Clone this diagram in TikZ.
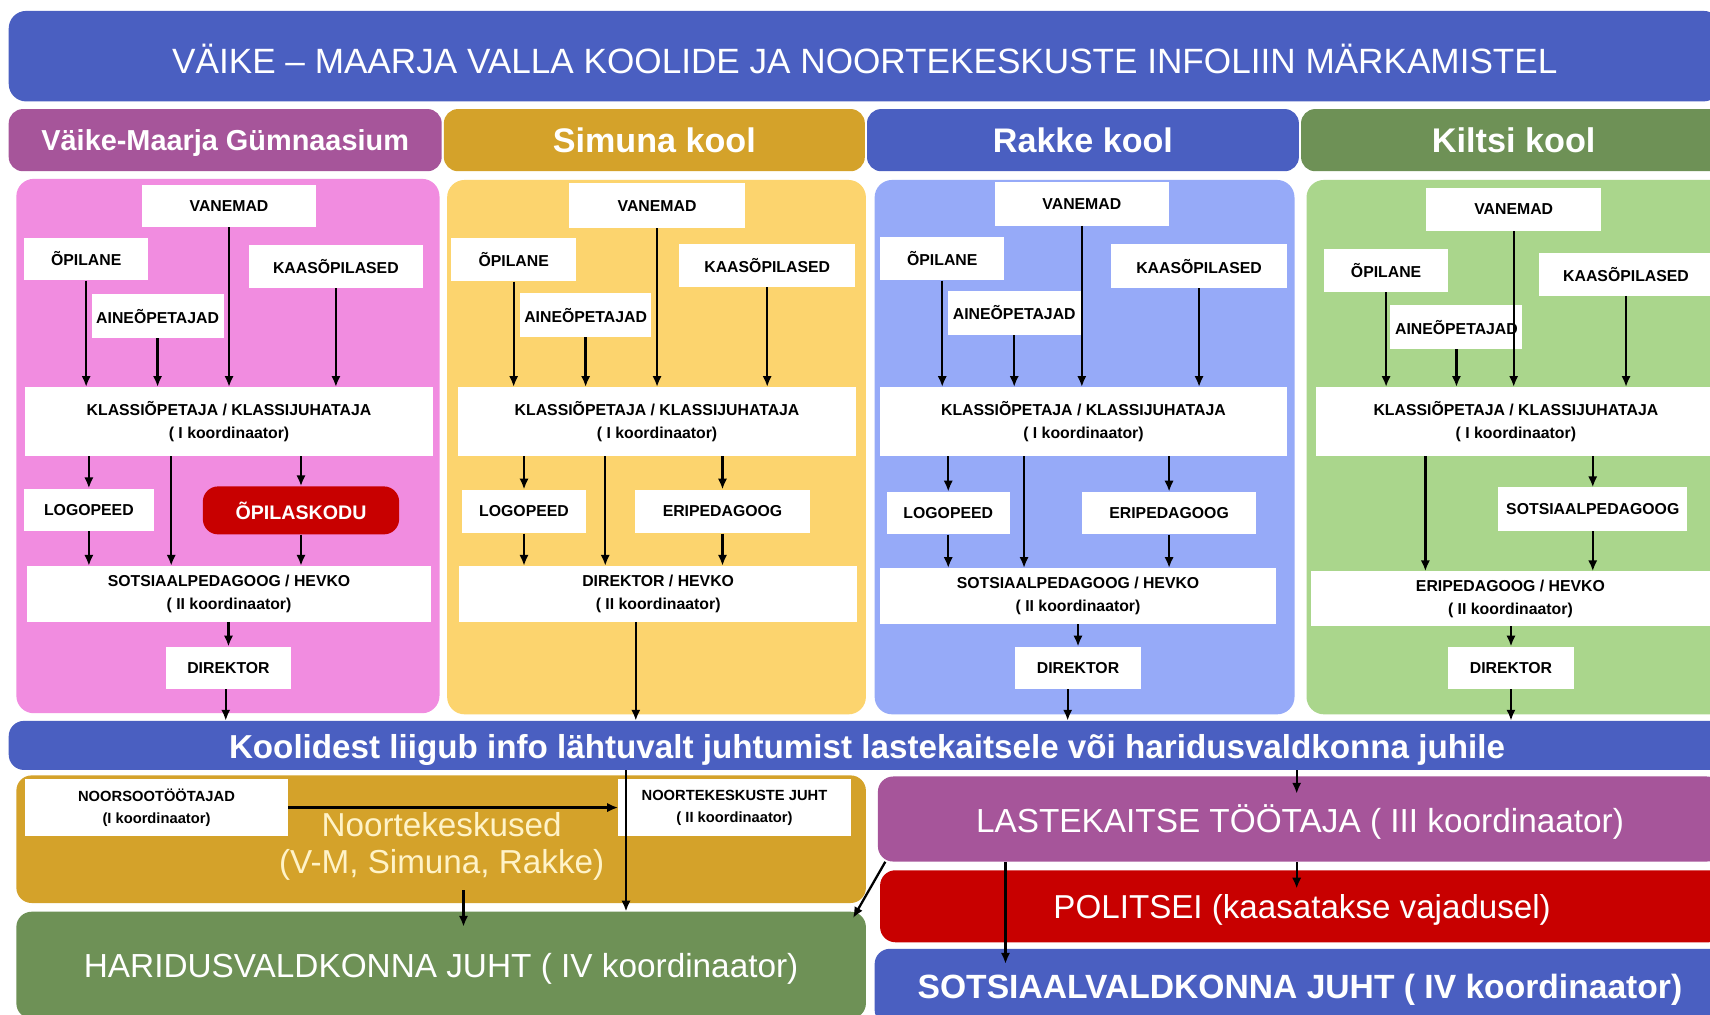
\documentclass[tikz,border=0pt]{standalone}
\usepackage{fontspec}
\usepackage{graphicx}
\setmainfont{Liberation Sans}
\usetikzlibrary{arrows.meta}
\definecolor{hblue}{RGB}{74,95,193}
\definecolor{hpurple}{RGB}{166,85,154}
\definecolor{hgold}{RGB}{212,162,42}
\definecolor{hgreen}{RGB}{110,145,86}
\definecolor{ppink}{RGB}{241,140,224}
\definecolor{pyellow}{RGB}{252,212,110}
\definecolor{pblue}{RGB}{150,170,248}
\definecolor{pgreen}{RGB}{170,214,140}
\definecolor{hred}{RGB}{200,0,0}
\definecolor{cream}{RGB}{255,243,200}
\newcommand\fitw[2]{\resizebox{#1}{!}{#2}}
\newcommand\lowr[1]{\raisebox{-3pt}[\height][\depth]{#1}}
\begin{document}
\begin{tikzpicture}[x=1pt,y=-1pt,
  wb/.style={fill=white, inner sep=0pt, align=center, font=\fontsize{14.5}{21}\selectfont\bfseries},
  big/.style={inner sep=0pt, align=center, text=white},
  hdr/.style={big, rounded corners=13pt, minimum height=57pt},
  panel/.style={inner sep=0pt, rounded corners=16pt, minimum height=490pt},
  arr/.style={-{Latex[length=10pt,width=8.5pt]}, line width=2.1pt}]
\useasboundingbox (0,0) rectangle (1568,930);
\clip (0,0) rectangle (1568,930);
\fill[white] (0,0) rectangle (1568,930);

% title
\node[big, fill=hblue, rounded corners=16pt, minimum width=1570pt, minimum height=83pt] (title) at (793,51.5)
  {\lowr{\fitw{1270pt}{VÄIKE – MAARJA VALLA KOOLIDE JA NOORTEKESKUSTE INFOLIIN MÄRKAMISTEL}}};

% headers
\node[hdr, fill=hpurple, minimum width=397pt] (hd1) at (206.5,128.5) {\lowr{\fitw{337pt}{\bfseries Väike-Maarja Gümnaasium}}};
\node[hdr, fill=hgold, minimum width=386pt] (hd2) at (600,128.5) {\fitw{186pt}{\bfseries Simuna kool}};
\node[hdr, fill=hblue, minimum width=396pt] (hd3) at (993,128.5) {\fitw{165pt}{\bfseries Rakke kool}};
\node[hdr, fill=hgreen, minimum width=390pt] (hd4) at (1388,128.5) {\fitw{150pt}{\bfseries Kiltsi kool}};

% panels
\node[panel, fill=ppink, minimum width=388pt] (p1) at (209,409) {};
\node[panel, fill=pyellow, minimum width=384pt] (p2) at (602,410) {};
\node[panel, fill=pblue, minimum width=385pt] (p3) at (994.5,410) {};
\node[panel, fill=pgreen, minimum width=392pt] (p4) at (1394,410) {};

% panel 1
\node[wb, minimum width=160pt, minimum height=38pt] (van1) at (210,189) {VANEMAD};
\node[wb, minimum width=114pt, minimum height=39pt] (opi1) at (79,237.5) {ÕPILANE};
\node[wb, minimum width=160pt, minimum height=39pt] (kaas1) at (308,244.5) {KAASÕPILASED};
\node[wb, minimum width=121pt, minimum height=40pt] (aine1) at (144.5,290) {AINEÕPETAJAD};
\node[wb, minimum width=374pt, minimum height=63pt] (klass1) at (210,386.5) {KLASSIÕPETAJA / KLASSIJUHATAJA\\( I koordinaator)};
\node[wb, minimum width=119pt, minimum height=39pt] (logo1) at (81.5,467.5) {LOGOPEED};
\node[wb, fill=hred, text=white, rounded corners=14pt, minimum width=180pt, minimum height=44pt, font=\fontsize{18}{21}\selectfont\bfseries] (kodu1) at (276,468) {ÕPILASKODU};
\node[wb, minimum width=370pt, minimum height=51pt] (sots1) at (210,544.5) {SOTSIAALPEDAGOOG / HEVKO\\( II koordinaator)};
\node[wb, minimum width=115pt, minimum height=39pt] (dir1) at (209.5,612.5) {DIREKTOR};

% panel 2
\node[wb, minimum width=161pt, minimum height=41pt] (van2) at (602.5,188.5) {VANEMAD};
\node[wb, minimum width=114pt, minimum height=40pt] (opi2) at (471,238) {ÕPILANE};
\node[wb, minimum width=161pt, minimum height=39pt] (kaas2) at (703.5,243.5) {KAASÕPILASED};
\node[wb, minimum width=120pt, minimum height=40pt] (aine2) at (537,289) {AINEÕPETAJAD};
\node[wb, minimum width=365pt, minimum height=63pt] (klass2) at (602.5,386.5) {KLASSIÕPETAJA / KLASSIJUHATAJA\\( I koordinaator)};
\node[wb, minimum width=113pt, minimum height=40pt] (logo2) at (480.5,469) {LOGOPEED};
\node[wb, minimum width=161pt, minimum height=40pt] (eri2) at (662.5,469) {ERIPEDAGOOG};
\node[wb, minimum width=365pt, minimum height=51pt] (dir2) at (603.5,544.5) {DIREKTOR / HEVKO\\( II koordinaator)};

% panel 3
\node[wb, minimum width=160pt, minimum height=40pt] (van3) at (992,187) {VANEMAD};
\node[wb, minimum width=114pt, minimum height=40pt] (opi3) at (864,237) {ÕPILANE};
\node[wb, minimum width=161pt, minimum height=40pt] (kaas3) at (1099.5,244) {KAASÕPILASED};
\node[wb, minimum width=122pt, minimum height=40pt] (aine3) at (930,287) {AINEÕPETAJAD};
\node[wb, minimum width=373pt, minimum height=63pt] (klass3) at (993.5,386.5) {KLASSIÕPETAJA / KLASSIJUHATAJA\\( I koordinaator)};
\node[wb, minimum width=113pt, minimum height=39pt] (logo3) at (869.5,470.5) {LOGOPEED};
\node[wb, minimum width=160pt, minimum height=39pt] (eri3) at (1072,470.5) {ERIPEDAGOOG};
\node[wb, minimum width=363pt, minimum height=51pt] (sots3) at (988.5,546.5) {SOTSIAALPEDAGOOG / HEVKO\\( II koordinaator)};
\node[wb, minimum width=115pt, minimum height=39pt] (dir3) at (988.5,612.5) {DIREKTOR};

% panel 4
\node[wb, minimum width=160pt, minimum height=40pt] (van4) at (1388,192) {VANEMAD};
\node[wb, minimum width=114pt, minimum height=40pt] (opi4) at (1271,248) {ÕPILANE};
\node[wb, minimum width=160pt, minimum height=39pt] (kaas4) at (1491,251.5) {KAASÕPILASED};
\node[wb, minimum width=121pt, minimum height=40pt] (aine4) at (1335.5,300) {AINEÕPETAJAD};
\node[wb, minimum width=366pt, minimum height=63pt] (klass4) at (1390,386.5) {KLASSIÕPETAJA / KLASSIJUHATAJA\\( I koordinaator)};
\node[wb, minimum width=173pt, minimum height=40pt] (sped4) at (1460.5,467) {SOTSIAALPEDAGOOG};
\node[wb, minimum width=366pt, minimum height=50pt] (eri4) at (1385,549) {ERIPEDAGOOG / HEVKO\\( II koordinaator)};
\node[wb, minimum width=115pt, minimum height=39pt] (dir4) at (1385.5,612.5) {DIREKTOR};

% info bar
\node[big, fill=hblue, rounded corners=14pt, minimum width=1574pt, minimum height=45pt] (bar) at (795,683.5)
  {\raisebox{-4pt}[\height][\depth]{\fitw{1170pt}{\bfseries Koolidest liigub info lähtuvalt juhtumist lastekaitsele või haridusvaldkonna juhile}}};

% bottom left
\node[inner sep=0pt, fill=hgold, rounded corners=14pt, minimum width=779pt, minimum height=117pt] (nk) at (404.5,769.5) {};
\node[big, text=cream] (nktext) at (405,776) {\fitw{220pt}{Noortekeskused}\\[11pt]\fitw{298pt}{(V-M, Simuna, Rakke)}};
\node[wb, minimum width=241pt, minimum height=53pt, font=\fontsize{13.5}{20}\selectfont\bfseries] (noors) at (143.5,740.5) {NOORSOOTÖÖTAJAD\\(I koordinaator)};
\node[wb, minimum width=213pt, minimum height=53pt, font=\fontsize{13.5}{20}\selectfont\bfseries] (nkjuht) at (673.5,740.5) {NOORTEKESKUSTE JUHT\\( II koordinaator)};
\node[big, fill=hgreen, rounded corners=14pt, minimum width=779pt, minimum height=98pt] (har) at (404.5,885)
  {\lowr{\fitw{655pt}{HARIDUSVALDKONNA JUHT ( IV koordinaator)}}};

% bottom right
\node[big, fill=hpurple, rounded corners=14pt, minimum width=774pt, minimum height=78pt] (lk) at (1192,751)
  {\lowr{\fitw{594pt}{LASTEKAITSE TÖÖTAJA ( III koordinaator)}}};
\node[big, fill=hred, rounded corners=14pt, minimum width=774pt, minimum height=66pt] (pol) at (1194,831)
  {\lowr{\fitw{456pt}{POLITSEI (kaasatakse vajadusel)}}};
\node[big, fill=hblue, rounded corners=14pt, minimum width=780pt, minimum height=70pt] (sv) at (1192,905)
  {\lowr{\fitw{701pt}{\bfseries SOTSIAALVALDKONNA JUHT ( IV koordinaator)}}};

% arrows panel 1
\draw[arr] (opi1) -- (opi1 |- klass1.north);
\draw[arr] (aine1) -- (aine1 |- klass1.north);
\draw[arr] (van1) -- (van1 |- klass1.north);
\draw[arr] (kaas1) -- (kaas1 |- klass1.north);
\draw[arr] (logo1 |- klass1.south) -- (logo1.north);
\draw[arr] ([xshift=-53pt]klass1.south) -- ([xshift=-53pt]sots1.north);
\draw[arr] (kodu1 |- klass1.south) -- (kodu1.north);
\draw[arr] (logo1) -- (logo1 |- sots1.north);
\draw[arr] (kodu1) -- (kodu1 |- sots1.north);
\draw[arr] (dir1 |- sots1.south) -- (dir1.north);
\draw[arr] ([xshift=-2.5pt]dir1.south) -- ([xshift=-2.5pt]dir1.south |- bar.north);

% arrows panel 2
\draw[arr] (opi2) -- (opi2 |- klass2.north);
\draw[arr] (aine2) -- (aine2 |- klass2.north);
\draw[arr] (van2) -- (van2 |- klass2.north);
\draw[arr] (kaas2) -- (kaas2 |- klass2.north);
\draw[arr] (logo2 |- klass2.south) -- (logo2.north);
\draw[arr] ([xshift=-47.5pt]klass2.south) -- ([xshift=-47.5pt]klass2.south |- dir2.north);
\draw[arr] (eri2 |- klass2.south) -- (eri2.north);
\draw[arr] (logo2) -- (logo2 |- dir2.north);
\draw[arr] (eri2) -- (eri2 |- dir2.north);
\draw[arr] ([xshift=-20.5pt]dir2.south) -- ([xshift=-20.5pt]dir2.south |- bar.north);

% arrows panel 3
\draw[arr] (opi3) -- (opi3 |- klass3.north);
\draw[arr] (aine3) -- (aine3 |- klass3.north);
\draw[arr] (van3) -- (van3 |- klass3.north);
\draw[arr] (kaas3) -- (kaas3 |- klass3.north);
\draw[arr] (logo3 |- klass3.south) -- (logo3.north);
\draw[arr] ([xshift=-54.5pt]klass3.south) -- ([xshift=-54.5pt]klass3.south |- sots3.north);
\draw[arr] (eri3 |- klass3.south) -- (eri3.north);
\draw[arr] (logo3) -- (logo3 |- sots3.north);
\draw[arr] (eri3) -- (eri3 |- sots3.north);
\draw[arr] (dir3 |- sots3.south) -- (dir3.north);
\draw[arr] ([xshift=-9.5pt]dir3.south) -- ([xshift=-9.5pt]dir3.south |- bar.north);

% arrows panel 4
\draw[arr] (opi4) -- (opi4 |- klass4.north);
\draw[arr] (aine4) -- (aine4 |- klass4.north);
\draw[arr] (van4) -- (van4 |- klass4.north);
\draw[arr] (kaas4) -- (kaas4 |- klass4.north);
\draw[arr] ([xshift=-83pt]klass4.south) -- ([xshift=-83pt]klass4.south |- eri4.north);
\draw[arr] (sped4 |- klass4.south) -- (sped4.north);
\draw[arr] (sped4) -- (sped4 |- eri4.north);
\draw[arr] (dir4 |- eri4.south) -- (dir4.north);
\draw[arr] (dir4) -- (dir4 |- bar.north);

% bottom arrows
\draw[arr] (noors.east) -- (nkjuht.west);
\draw[arr] ([xshift=20.5pt,yshift=12pt]nk.south) -- ([xshift=20.5pt,yshift=-14pt]nk.south |- har.north);
\draw[arr] ([xshift=-221pt]bar.south) -- ([xshift=-221pt]bar.south |- har.north);
\draw[arr] ([xshift=-3pt]lk.north |- bar.south) -- ([xshift=-3pt,yshift=-16pt]lk.north);
\draw[arr] ([xshift=-3pt]lk.south) -- ([xshift=-3pt,yshift=-17pt]lk.south |- pol.north);
\draw[arr] ([xshift=-270pt]lk.south) -- ([xshift=-270pt,yshift=-14pt]lk.south |- sv.north);
\draw[arr] ([xshift=7pt]lk.south west) -- ([xshift=-12pt,yshift=-6pt]har.north east);
\end{tikzpicture}
\end{document}
